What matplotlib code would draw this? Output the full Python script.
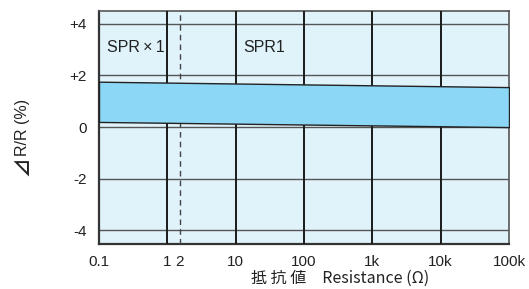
import matplotlib
matplotlib.use("Agg")
import matplotlib.pyplot as plt

# data
band_x = [0.1, 100000]
band_upper = [1.76, 1.55]
band_lower = [0.2, 0.0]
x_ticks = [0.1, 1, 1.53, 10, 100, 1000, 10000, 100000]
x_tick_labels = ["0.1", "1", "2", "10", "100", "1k", "10k", "100k"]
y_ticks = [-4, -2, 0, 2, 4]
y_tick_labels = ["-4", "-2", "0", "+2", "+4"]
v_grid = [1, 10, 100, 1000, 10000]
boundary_x = 1.53
region_labels = ["SPR\u2009×\u20091", "SPR1"]
region_label_x = [0.131, 12.8]
region_label_y = 3.09

SANS = ['Liberation Sans', 'DejaVu Sans']
CJK = ['Noto Sans CJK JP', 'Liberation Sans', 'DejaVu Sans']
plt.rcParams['font.family'] = SANS

fig = plt.figure(figsize=(5.29, 2.89), dpi=100)
ax = fig.add_axes([99/529, (289-243.7)/289, 410/529, (243.7-11)/289])
ax.set_xscale('log')
ax.set_xlim(0.1, 100000)
ax.set_ylim(-4.52, 4.5)
ax.set_facecolor('#e0f2fa')

for y in y_ticks:
    ax.axhline(y, color='#555555', lw=1.0, zorder=1)
for x in v_grid:
    ax.axvline(x, color='#1a1a1a', lw=1.4, zorder=3)
ax.axvline(boundary_x, color='#444444', lw=1.0, ls=(0, (4, 3)), zorder=3)

ax.fill_between(band_x, band_lower, band_upper, facecolor='#8dd7f6',
                edgecolor='#222222', lw=1.0, zorder=4)

for lab, lx in zip(region_labels, region_label_x):
    ax.text(lx, region_label_y, lab, fontsize=11.5, color='#222222',
            va='center', ha='left', zorder=5, family=SANS)

ax.set_xticks(x_ticks)
ax.set_xticklabels(x_tick_labels, family=SANS)
ax.minorticks_off()
ax.set_yticks(y_ticks)
ax.set_yticklabels(y_tick_labels, family=SANS)
ax.tick_params(length=0, labelsize=11, labelcolor='#222222')
ax.tick_params(axis='x', pad=8)
ax.tick_params(axis='y', pad=9)

for s in ['left', 'bottom']:
    ax.spines[s].set_color('#333333')
    ax.spines[s].set_linewidth(1.6)
for s in ['top', 'right']:
    ax.spines[s].set_color('#555555')
    ax.spines[s].set_linewidth(1.2)

fig.text(340/529, 1 - 278/289, "抵 抗 値　Resistance (Ω)", ha='center', va='center',
         fontsize=11.5, color='#222222', family=CJK)
fig.text(23/529, 1 - 156/289, "R/R (%)", ha='center', va='bottom', rotation=90,
         fontsize=11.5, color='#222222', family=SANS)
fig.text(23/529, 1 - 157/289, "⊿", ha='center', va='top', rotation=90,
         fontsize=14, fontweight='bold', color='#222222', family=CJK)

fig.savefig("out.png", dpi=100)
